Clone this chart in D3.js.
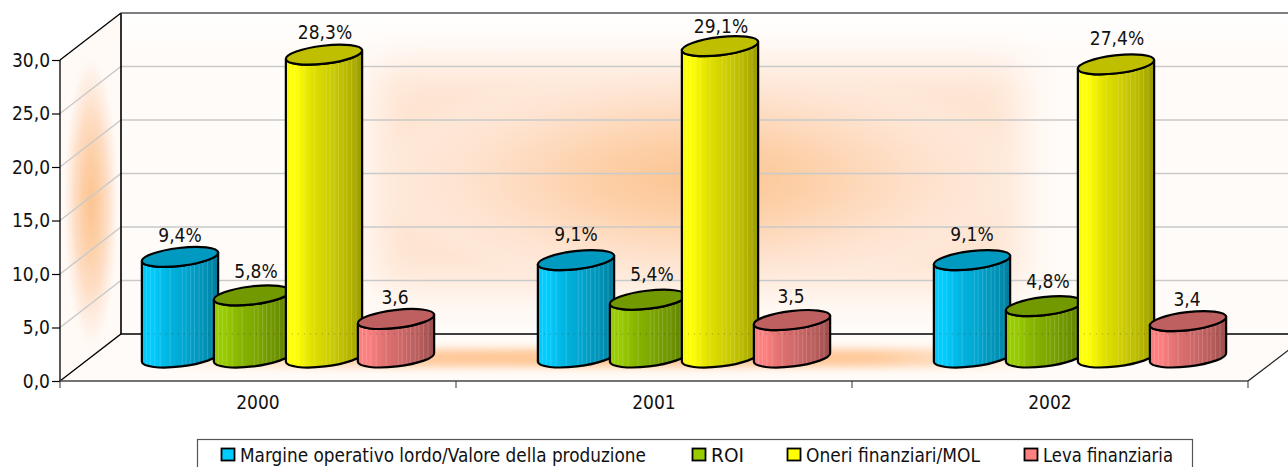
<!DOCTYPE html>
<html><head><meta charset="utf-8">
<script src="https://cdn.jsdelivr.net/npm/d3@7/dist/d3.min.js"></script>
<style>html,body{margin:0;padding:0;background:#fff;overflow:hidden}svg{display:block}
text{font-family:"DejaVu Sans Condensed","DejaVu Sans",sans-serif;font-stretch:condensed;font-size:19px;fill:#111}</style>
</head><body><svg id="c" width="1288" height="467"></svg>
<script>
const categories=["2000","2001","2002"];
const seriesNames=["Margine operativo lordo/Valore della produzione","ROI","Oneri finanziari/MOL","Leva finanziaria"];
const seriesColors=["#00CCFF","#99CC00","#FFFF00","#FF8080"];
const margine=[9.4,9.1,9.1];
const roi=[5.8,5.4,4.8];
const oneri=[28.3,29.1,27.4];
const leva=[3.6,3.5,3.4];
const seriesValues=[margine,roi,oneri,leva];
const valueLabels=[["9,4%","9,1%","9,1%"],["5,8%","5,4%","4,8%"],["28,3%","29,1%","27,4%"],["3,6","3,5","3,4"]];
const labelNudge=[[0,-4,-4],[-2,-4,-3],[-1,2,-4],[0,-2,0]];
const labelShiftX=[0,4,1,-1];
const yTicks=[0,5,10,15,20,25,30];

const svg=d3.select("#c"),defs=svg.append("defs");
const depthX=61,depthY=47;
const x=d3.scaleBand().domain(categories).range([60,1248]);
const y=d3.scaleLinear().domain([0,30]).range([381,60]);
const inner=d3.scalePoint().domain(d3.range(4)).range([-108,108]);
const fmt=d3.format(".1f");
const rx=38.4,ry=9,tilt=6.7*Math.PI/180;
const W=1288;

/* ---- gradients ---- */
function radial(id,stops){const g=defs.append("radialGradient").attr("id",id);
  stops.forEach(s=>g.append("stop").attr("offset",s[0]).attr("stop-color",s[1]).attr("stop-opacity",s[2]));}
radial("glow",[[0,"#FCC491",1],[.3,"#FDCFA6",1],[.6,"#FEDDC4",.95],[.85,"#FEE9DB",.5],[1,"#FFF3EA",0]]);
const fl=defs.append("linearGradient").attr("id","floorFade");
[[0,0],[.1,.4],[.3,.9],[.55,1],[.8,.9],[.93,.35],[1,0]].forEach(s=>fl.append("stop").attr("offset",s[0]).attr("stop-color","#FFC490").attr("stop-opacity",s[1]));
const wall=defs.append("linearGradient").attr("id","wallFill").attr("x1",0).attr("x2",0).attr("y1",0).attr("y2",1);
[[0,"#FFFFFF"],[.12,"#FFFBF8"],[1,"#FFFBF8"]].forEach(s=>wall.append("stop").attr("offset",s[0]).attr("stop-color",s[1]));
const mkBlur=(id,sd)=>defs.append("filter").attr("id",id).attr("x","-30%").attr("y","-100%").attr("width","160%").attr("height","300%")
  .append("feGaussianBlur").attr("stdDeviation",sd);
mkBlur("blur4",4);mkBlur("blur20",20);
const shade=c=>{const k=d3.rgb(c);return f=>d3.rgb(k.r*f,k.g*f,k.b*f).formatHex();};
seriesColors.forEach((c,i)=>{
  const s=shade(c),g=defs.append("linearGradient").attr("id","side"+i);
  [[0,.97],[.05,1],[.13,1],[.35,.88],[.6,.8],[.85,.7],[1,.6]].forEach(t=>g.append("stop").attr("offset",t[0]).attr("stop-color",s(t[1])));
});

/* ---- walls and floor ---- */
const y0=y(0),yT=y(30),xL=x.range()[0],xR=x.range()[1];
const backPts=[[xL+depthX,yT-depthY],[W+2,yT-depthY],[W+2,y0-depthY],[xL+depthX,y0-depthY]];
const leftPts=[[xL,yT],[xL+depthX,yT-depthY],[xL+depthX,y0-depthY],[xL,y0]];
const floorPts=[[xL,y0],[xL+depthX,y0-depthY],[W+2,y0-depthY],[W+2,y0-32],[xR,y0]];
const poly=p=>"M"+p.map(d=>d.join(",")).join("L")+"Z";
[["backClip",backPts],["leftClip",leftPts],["floorClip",floorPts]].forEach(d=>defs.append("clipPath").attr("id",d[0]).append("path").attr("d",poly(d[1])));

svg.append("path").attr("d",poly(backPts)).attr("fill","url(#wallFill)");
svg.append("path").attr("d",poly(leftPts)).attr("fill","#FFFAF6");
svg.append("path").attr("d",poly(floorPts)).attr("fill","#FFFBF8");
const backG=svg.append("g").attr("clip-path","url(#backClip)");
backG.append("rect").attr("x",375).attr("y",66).attr("width",645).attr("height",222)
  .attr("fill","#FEE4D1").attr("filter","url(#blur20)");
backG.append("ellipse").attr("cx",700).attr("cy",178).attr("rx",330).attr("ry",118).attr("fill","url(#glow)");
svg.append("g").attr("clip-path","url(#leftClip)").append("ellipse")
  .attr("cx",91).attr("cy",202).attr("rx",28).attr("ry",150).attr("fill","url(#glow)");
svg.append("g").attr("clip-path","url(#floorClip)").append("rect")
  .attr("x",150).attr("y",349).attr("width",900).attr("height",18).attr("fill","url(#floorFade)").attr("filter","url(#blur4)");

/* ---- grid ---- */
const grid=svg.append("g").attr("fill","none").attr("stroke","#C9C9C9").attr("stroke-width",1.4);
yTicks.slice(1,-1).forEach(t=>{
  grid.append("path").attr("d",d3.line()([[xL,y(t)],[xL+depthX,y(t)-depthY],[W+2,y(t)-depthY]]));
});

/* ---- frame lines ---- */
const frame=svg.append("g").attr("fill","none").attr("stroke","#000").attr("stroke-width",1.3);
frame.append("path").attr("d",d3.line()([[xL,yT],[xL+depthX,yT-depthY]]));
frame.append("path").attr("d",d3.line()([[xL+depthX,yT-depthY],[xL+depthX,y0-depthY]])).attr("stroke-width",1.6);
frame.append("path").attr("d",d3.line()([[xL,y0],[xL+depthX,y0-depthY],[W+2,y0-depthY]]));
frame.append("path").attr("d",d3.line()([[xR,y0],[W+2,y0-32]])).attr("stroke","#222");
svg.append("path").attr("d",d3.line()([[xL+depthX,yT-depthY],[W+2,yT-depthY]])).attr("stroke","#555").attr("stroke-width",1.6);

/* ---- axes ---- */
const ax=svg.append("g").attr("transform",`translate(${xL},0)`)
  .call(d3.axisLeft(y).tickValues(yTicks).tickSize(8).tickPadding(2).tickFormat(v=>fmt(v).replace(".",",")));
ax.select(".domain").attr("stroke","#000").attr("stroke-width",1.3).attr("d",`M0,${yT}V${y0}`);
ax.selectAll(".tick line").attr("stroke","#000").attr("stroke-width",1.2);
ax.selectAll("text").style("font-size","19px").style("font-family",'"DejaVu Sans Condensed"').attr("fill","#111");
const bx=svg.append("g").attr("transform",`translate(0,${y0})`)
  .call(d3.axisBottom(x).tickSize(0).tickPadding(15));
bx.select(".domain").attr("stroke","#444").attr("stroke-width",1.5).attr("d",`M${xL},0H${xR}`);
bx.selectAll("text").style("font-size","19px").style("font-family",'"DejaVu Sans Condensed"').attr("fill","#111");
const edges=categories.map(c=>x(c)).concat([xR]);
svg.append("g").selectAll("line").data(edges).join("line")
  .attr("x1",d=>d).attr("x2",d=>d).attr("y1",y0).attr("y2",y0+7).attr("stroke","#333").attr("stroke-width",1);

/* ---- cylinders ---- */
const ex=rx*Math.cos(tilt),ey=rx*Math.sin(tilt),tiltDeg=-tilt*180/Math.PI;
const stripes=[.06,.11,.17,.24,.37,.53,.58,.64,.69,.75,.8,.86,.92];
const bars=svg.append("g");
let clipN=0;
categories.forEach((cat,ci)=>{
  const cx0=x(cat)+x.bandwidth()/2+depthX/2-.5;
  seriesValues.forEach((vals,si)=>{
    const v=vals[ci],cx=cx0+inner(si),by=y(0)-depthY/2,ty=y(v)-depthY/2;
    const g=bars.append("g");
    const body=`M${cx-ex},${ty+ey}L${cx-ex},${by+ey}A${rx},${ry} ${tiltDeg} 0 0 ${cx+ex},${by-ey}L${cx+ex},${ty-ey}A${rx},${ry} ${tiltDeg} 0 1 ${cx-ex},${ty+ey}Z`;
    const id="b"+(clipN++);
    defs.append("clipPath").attr("id",id).append("path").attr("d",body);
    g.append("path").attr("d",body).attr("fill",`url(#side${si})`);
    const inside=g.append("g").attr("clip-path",`url(#${id})`);
    inside.selectAll("line.s").data(stripes).join("line").attr("class","s")
      .attr("x1",f=>cx-ex+f*2*ex).attr("x2",f=>cx-ex+f*2*ex)
      .attr("y1",ty-ey-2).attr("y2",by+ry+ey+2)
      .attr("stroke","#fff").attr("stroke-opacity",.17).attr("stroke-width",1);
    inside.append("line").attr("x1",cx-ex).attr("x2",cx+ex).attr("y1",y0-depthY).attr("y2",y0-depthY)
      .attr("stroke","#000").attr("stroke-opacity",.3).attr("stroke-dasharray","1 5");
    g.append("path").attr("d",body).attr("fill","none").attr("stroke","#000").attr("stroke-width",2.2).attr("stroke-linejoin","round");
    g.append("ellipse").attr("cx",0).attr("cy",0).attr("rx",rx).attr("ry",ry)
      .attr("transform",`translate(${cx},${ty}) rotate(${tiltDeg})`)
      .attr("fill",shade(seriesColors[si])(.75)).attr("stroke","#000").attr("stroke-width",2.2);
  });
});
/* value labels on top */
const labels=svg.append("g").attr("text-anchor","middle");
categories.forEach((cat,ci)=>{
  const cx0=x(cat)+x.bandwidth()/2+depthX/2-.5;
  seriesValues.forEach((vals,si)=>{
    labels.append("text").attr("x",cx0+inner(si)+labelShiftX[si]).attr("y",y(vals[ci])-depthY/2-15+labelNudge[si][ci]).text(valueLabels[si][ci]);
  });
});

/* ---- legend ---- */
const lg=svg.append("g");
lg.append("rect").attr("x",197.5).attr("y",439.5).attr("width",995).attr("height",40).attr("fill","#fff").attr("stroke","#555").attr("stroke-width",1.2);
const legendX=[221,692,787,1024],legendW=[406,33,174,130];
seriesNames.forEach((n,i)=>{
  lg.append("rect").attr("x",legendX[i]+.5).attr("y",448.5).attr("width",13).attr("height",12).attr("fill",seriesColors[i]).attr("stroke","#000").attr("stroke-width",1.8);
  lg.append("text").attr("x",legendX[i]+19).attr("y",462).attr("textLength",legendW[i]).attr("lengthAdjust","spacingAndGlyphs").text(n);
});
</script></body></html>
